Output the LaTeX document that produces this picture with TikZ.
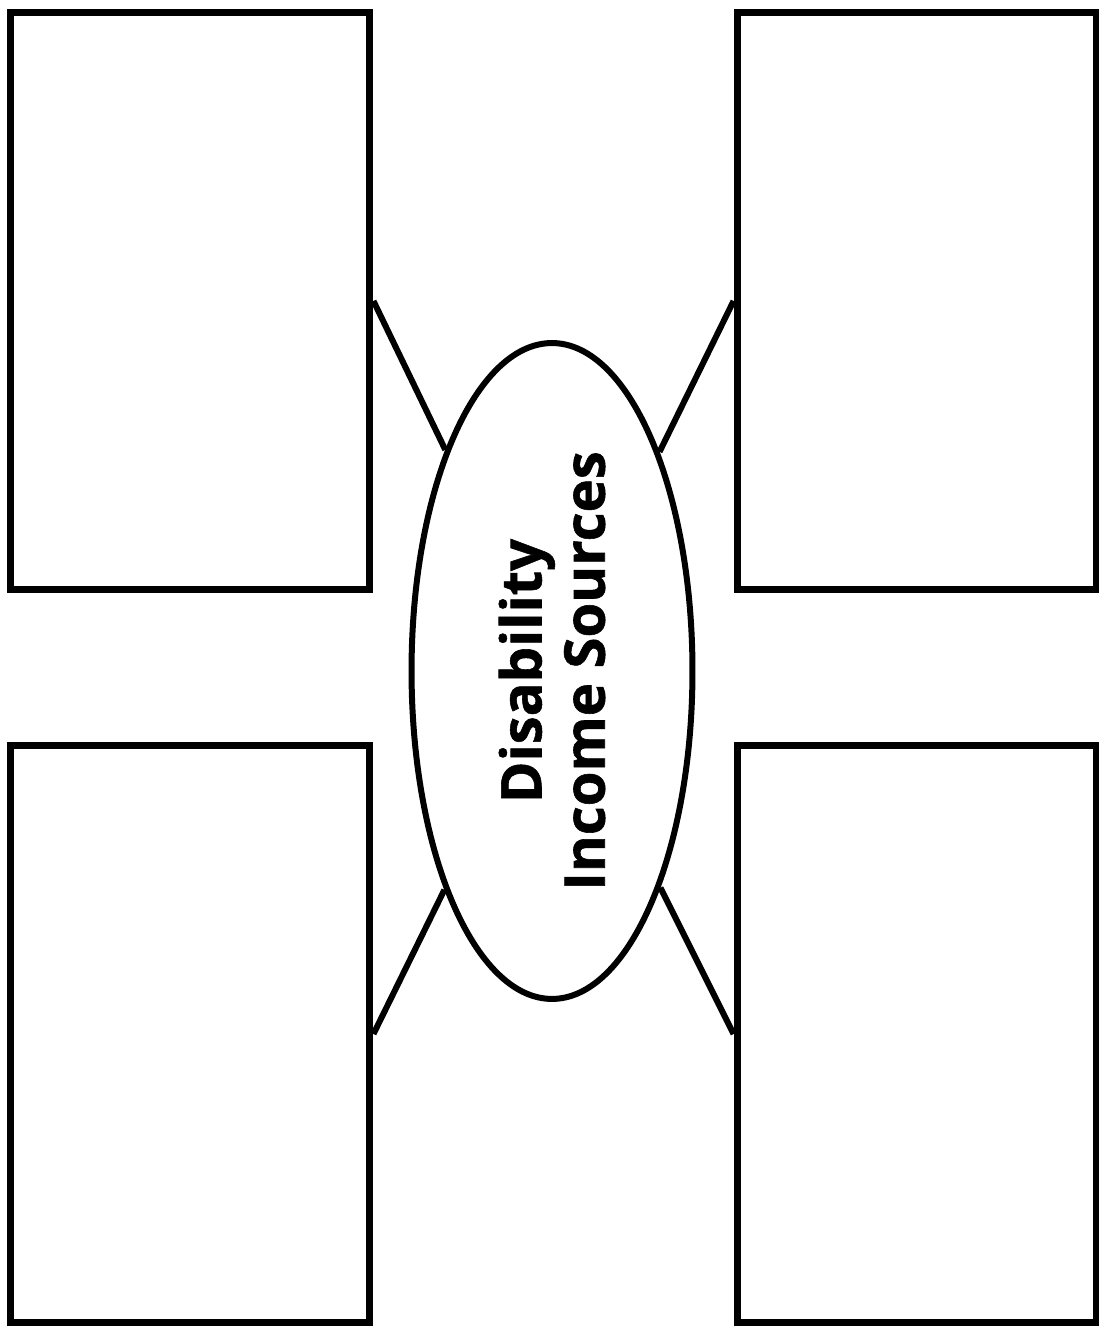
\documentclass[tikz,border=0pt]{standalone}
\usepackage{fontspec}
\setsansfont{Open Sans}[BoldFeatures={FakeBold=1}]
\usepackage{tikz}
\usetikzlibrary{positioning, shapes.geometric}

\begin{document}
\begin{tikzpicture}[x=0.02cm, y=0.02cm,
        every node/.style={font=\sffamily\bfseries},
        slot/.style={rectangle, draw=black, line width=0.14cm, fill=white,
          minimum width=7.2cm, minimum height=11.56cm, inner sep=0pt},
        hub/.style={ellipse, draw=black, line width=0.12cm, fill=white,
          minimum width=13.12cm, minimum height=5.62cm, inner sep=0pt,
          align=center, rotate=90,
          font=\fontsize{32}{36}\selectfont\sffamily\bfseries},
        link/.style={line width=0.12cm, color=black}]

      \useasboundingbox (0,0) rectangle (1098,1327);

      \node[slot] (TL) at (190,1026) {};
      \node[slot] (TR) at (917,1026) {};
      \node[slot] (BL) at (190,293) {};
      \node[slot] (BR) at (917,293) {};

      \node[hub] (SRC) at (552,656) {Disability\\Income Sources};

      \draw[link] (TL.east) -- (SRC);
      \draw[link] (TR.west) -- (SRC);
      \draw[link] (BL.east) -- (SRC);
      \draw[link] (BR.west) -- (SRC);
    \end{tikzpicture}
\end{document}
